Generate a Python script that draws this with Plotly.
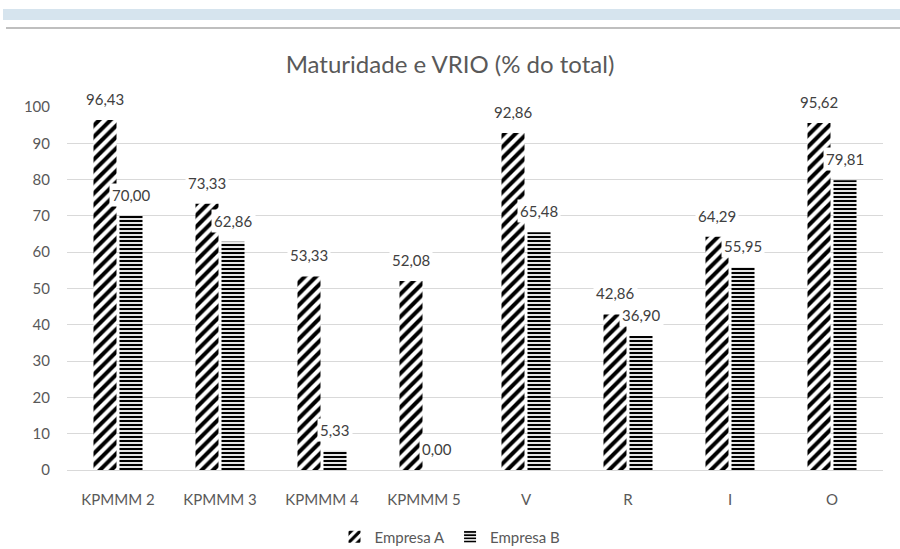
import plotly.graph_objects as go

categories = ["KPMMM 2", "KPMMM 3", "KPMMM 4", "KPMMM 5", "V", "R", "I", "O"]
empresa_a = [96.43, 73.33, 53.33, 52.08, 92.86, 42.86, 64.29, 95.62]
empresa_b = [70.00, 62.86, 5.33, 0.00, 65.48, 36.90, 55.95, 79.81]
y_ticks = [0, 10, 20, 30, 40, 50, 60, 70, 80, 90, 100]

def fmt(v):
    return f"{v:.2f}".replace(".", ",")

FONT = "Lato, 'Open Sans', sans-serif"

fig = go.Figure()
fig.add_trace(go.Bar(
    x=categories, y=empresa_a, name="Empresa A",
    marker=dict(color="white", line=dict(width=0),
                pattern=dict(shape="/", fgcolor="black", bgcolor="white", fgopacity=1,
                             size=8, solidity=0.5)),
))
fig.add_trace(go.Bar(
    x=categories, y=empresa_b, name="Empresa B",
    marker=dict(color="white", line=dict(width=0),
                pattern=dict(shape="-", fgcolor="black", bgcolor="white", fgopacity=1,
                             size=4, solidity=0.55)),
))

annotations = []
for series, shift in ((empresa_a, -13), (empresa_b, 13)):
    for cat, v in zip(categories, series):
        annotations.append(dict(
            x=cat, y=v, xref="x", yref="y", text=fmt(v), showarrow=False,
            xshift=shift, yshift=21, yanchor="middle", xanchor="center",
            bgcolor="white", borderpad=2,
            font=dict(size=15, color="#404040", family=FONT),
        ))

L, R, T, B = 67, 17, 107, 79
W, H = 900, 549
ph = H - T - B
pw = W - L - R

def py(pix):
    return (H - B - pix) / ph

def px(pix):
    return (pix - L) / pw

fig.update_layout(
    width=W, height=H,
    margin=dict(l=L, r=R, t=T, b=B),
    paper_bgcolor="white", plot_bgcolor="white",
    font=dict(family=FONT, color="#595959", size=15),
    title=dict(text="Maturidade e VRIO (% do total)", x=0.5, xanchor="center",
               y=1 - 65 / H, yanchor="middle",
               font=dict(size=24, color="#595959", family=FONT)),
    barmode="group", bargap=0.49, bargroupgap=0.115,
    showlegend=True,
    legend=dict(orientation="h", x=0.5, xanchor="center", xref="container",
                y=1 - 537 / H, yanchor="middle", yref="container",
                font=dict(size=15, color="#595959"), itemwidth=30),
    xaxis=dict(showgrid=False, showline=True, linecolor="#d9d9d9", linewidth=1,
               ticks="", tickfont=dict(size=15, color="#595959"), ticklabelstandoff=16),
    yaxis=dict(range=[0, 100], tickvals=y_ticks, showgrid=True, gridcolor="#d9d9d9",
               gridwidth=1, zeroline=False, ticks="", tickfont=dict(size=15, color="#595959"),
               ticklabelstandoff=16),
    annotations=annotations,
    shapes=[
        dict(type="rect", xref="paper", yref="paper", x0=px(3), x1=px(900), y0=py(20), y1=py(9),
             fillcolor="#d6e4ee", line=dict(width=0), layer="above"),
        dict(type="line", xref="paper", yref="paper", x0=px(6), x1=px(900), y0=py(28), y1=py(28),
             line=dict(color="#bfbfbf", width=2), layer="above"),
    ],
)

fig.write_html("out.html", config={"displayModeBar": False},
               post_script="document.body.style.margin='0';")
